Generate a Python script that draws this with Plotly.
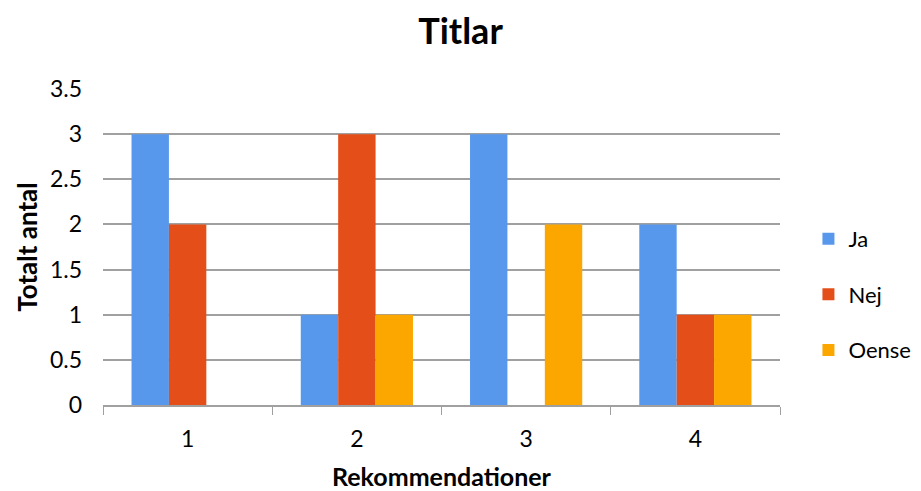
import plotly.graph_objects as go

categories = ["1", "2", "3", "4"]
ja = [3, 1, 3, 2]
nej = [2, 3, 0, 1]
oense = [0, 1, 2, 1]
series = [("Ja", ja, "#5898EC"), ("Nej", nej, "#E44F19"), ("Oense", oense, "#FBA700")]

font_family = "Lato, Open Sans, sans-serif"

fig = go.Figure()
for i, (name, vals, color) in enumerate(series):
    fig.add_trace(go.Bar(x=categories, y=vals, name=name, marker=dict(color=color, line=dict(width=0)),
                         legendgroup=name))

fig.update_layout(
    width=921, height=491,
    margin=dict(l=103, r=141, t=89, b=86, autoexpand=False),
    paper_bgcolor="white", plot_bgcolor="white",
    font=dict(family=font_family, color="black", size=23),
    title=dict(text="<b>Titlar</b>", x=0.5, xref="container", xanchor="center",
               y=1 - 31/491, yanchor="middle", font=dict(size=36, family=font_family)),
    bargap=0.337, bargroupgap=0,
    legend=dict(x=1.042, xanchor="left", y=0.35, yanchor="middle", tracegroupgap=24,
                font=dict(size=22), itemwidth=30),
    xaxis=dict(type="category", tickson="boundaries", ticks="outside", ticklen=8, tickcolor="#A0A0A0",
               showline=True, linecolor="#A0A0A0", linewidth=2, showgrid=False, automargin=False,
               ticklabelstandoff=12,
               title=dict(text="<b>Rekommendationer</b>", font=dict(size=25), standoff=28),
               tickfont=dict(size=23)),
    yaxis=dict(range=[0, 3.5], dtick=0.5, showgrid=True, gridcolor="#A0A0A0", gridwidth=2,
               showline=False, zeroline=False, ticks="", automargin=False,
               ticklabelstandoff=20,
               title=dict(text="<b>Totalt antal</b>", font=dict(size=26), standoff=4),
               tickfont=dict(size=23)),
)

# remove the browser's default body margin so the 921x491 figure fills the window exactly
fig.write_html("out.html", config={"displayModeBar": False},
               post_script="document.body.style.margin='0';")
